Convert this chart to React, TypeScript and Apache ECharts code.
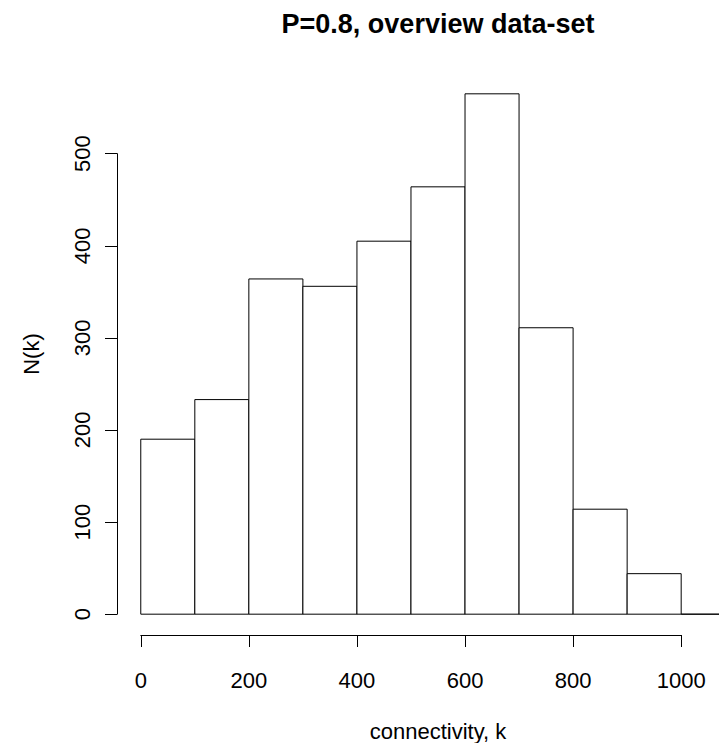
import React, { useEffect, useRef } from "react";
import * as echarts from "echarts";

// Histogram data
const binEdges = [0, 100, 200, 300, 400, 500, 600, 700, 800, 900, 1000, 1100];
const counts = [190, 233, 364, 356, 405, 464, 565, 311, 114, 44, 0];
const xTickMax = 1000;
const xTickStep = 200;
const yTickMax = 500;
const yTickStep = 100;

const titleText = "P=0.8, overview data-set";
const xName = "connectivity, k";
const yName = "N(k)";

const FONT = "'Liberation Sans', Arial, Helvetica, sans-serif";

export default function App() {
  const ref = useRef<HTMLDivElement>(null);

  useEffect(() => {
    if (!ref.current) return;
    const chart = echarts.init(ref.current, null, { renderer: "svg" });

    const CW = 719;
    // R-style usr extents (4% extension)
    const xLo = binEdges[0];
    const xHi = binEdges[binEdges.length - 1];
    const xMin = xLo - 0.04 * (xHi - xLo);
    const xMaxFull = xHi + 0.04 * (xHi - xLo);
    const yTop = Math.max(...counts);
    const yMin = -0.04 * yTop;
    const yMax = yTop * 1.04;

    // R plot region in pixels (extends past the right edge of the picture)
    const L = 117, T = 73, WFull = 642, H = 562;
    const unitPx = WFull / (xMaxFull - xMin);
    const W = CW - L; // visible part
    const xMax = xMin + W / unitPx;
    const px = (v: number) => L + (v - xMin) * unitPx;
    const py = (v: number) => T + H - ((v - yMin) / (yMax - yMin)) * H;

    const bins = counts.map((c, i) => [binEdges[i], binEdges[i + 1], c]);

    const axisLineStyle = { color: "#000", width: 1 };

    chart.setOption({
      animation: false,
      backgroundColor: "#fff",
      title: [
        {
          text: titleText,
          left: L + WFull / 2,
          top: 10,
          textAlign: "center",
          padding: 0,
          textStyle: { fontFamily: FONT, fontSize: 27, fontWeight: "bold", color: "#000" },
        },
        {
          text: xName,
          left: L + WFull / 2,
          top: 720,
          textAlign: "center",
          padding: 0,
          textStyle: { fontFamily: FONT, fontSize: 22, fontWeight: "normal", color: "#000" },
        },
      ],
      grid: [
        { left: L, top: T, width: W, height: H },
        { left: px(0), top: T + H - 1, width: px(xTickMax) - px(0), height: 1 },
        { left: L, top: py(yTickMax), width: 1, height: py(0) - py(yTickMax) },
      ],
      xAxis: [
        {
          gridIndex: 0,
          type: "value",
          min: xMin,
          max: xMax,
          axisLine: { show: false },
          axisTick: { show: false },
          axisLabel: { show: false },
          splitLine: { show: false },
        },
        {
          gridIndex: 1,
          type: "value",
          min: 0,
          max: xTickMax,
          interval: xTickStep,
          position: "bottom",
          axisLine: { show: true, lineStyle: axisLineStyle },
          axisTick: { show: true, length: 12, lineStyle: axisLineStyle },
          axisLabel: {
            fontFamily: FONT,
            fontSize: 22,
            color: "#000",
            margin: 34,
            formatter: (v: number) => String(v),
          },
          splitLine: { show: false },
        },
        { gridIndex: 2, type: "value", show: false, splitLine: { show: false } },
      ],
      yAxis: [
        {
          gridIndex: 0,
          type: "value",
          min: yMin,
          max: yMax,
          axisLine: { show: false },
          axisTick: { show: false },
          axisLabel: { show: false },
          splitLine: { show: false },
          name: yName,
          nameLocation: "middle",
          nameRotate: 90,
          nameGap: 75,
          nameTextStyle: { fontFamily: FONT, fontSize: 22, color: "#000" },
        },
        { gridIndex: 1, type: "value", show: false, splitLine: { show: false } },
        {
          gridIndex: 2,
          type: "value",
          min: 0,
          max: yTickMax,
          interval: yTickStep,
          position: "left",
          axisLine: { show: true, lineStyle: axisLineStyle },
          axisTick: { show: true, length: 12, lineStyle: axisLineStyle },
          axisLabel: {
            fontFamily: FONT,
            fontSize: 22,
            color: "#000",
            margin: 24,
            rotate: 90,
            formatter: (v: number) => String(v),
          },
          splitLine: { show: false },
        },
      ],
      series: [
        {
          type: "custom",
          xAxisIndex: 0,
          yAxisIndex: 0,
          clip: false,
          data: bins,
          encode: { x: [0, 1], y: 2 },
          renderItem: (params: any, api: any) => {
            const p0 = api.coord([api.value(0), api.value(2)]);
            const p1 = api.coord([api.value(1), 0]);
            return {
              type: "rect",
              shape: { x: p0[0], y: p0[1], width: p1[0] - p0[0], height: p1[1] - p0[1] },
              style: { fill: "#fff", stroke: "#000", lineWidth: 1 },
            };
          },
        },
      ],
    });

    return () => chart.dispose();
  }, []);

  return (
    <div
      ref={ref}
      style={{ position: "absolute", left: 0, top: 0, width: 719, height: 743 }}
    />
  );
}
